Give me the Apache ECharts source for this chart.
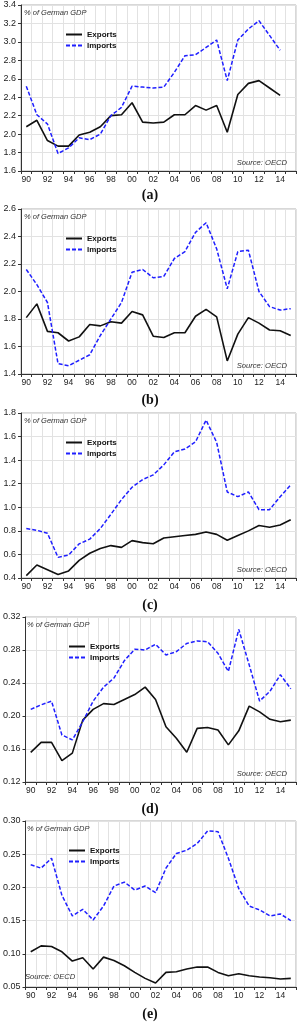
<!DOCTYPE html>
<html>
<head>
<meta charset="utf-8">
<script src="https://cdn.jsdelivr.net/npm/echarts@6/dist/echarts.min.js"></script>
<style>
html,body{margin:0;padding:0;background:#fff;}
#chart{width:302px;height:1024px;}
</style>
</head>
<body>
<div id="chart"></div>
<script>
var years = ['90','91','92','93','94','95','96','97','98','99','00','01','02','03','04','05','06','07','08','09','10','11','12','13','14','15'];

var exportsA = [2.08,2.15,1.93,1.87,1.87,1.99,2.02,2.08,2.20,2.21,2.34,2.13,2.12,2.13,2.21,2.21,2.31,2.26,2.31,2.02,2.43,2.55,2.58,2.50,2.42,null];
var importsA = [2.52,2.21,2.11,1.79,1.85,1.96,1.94,2.00,2.20,2.29,2.52,2.51,2.50,2.51,2.67,2.85,2.86,2.94,3.02,2.58,3.02,3.14,3.23,3.07,2.91,null];

var exportsB = [1.81,1.91,1.71,1.70,1.64,1.67,1.76,1.75,1.78,1.77,1.855,1.83,1.675,1.665,1.70,1.70,1.82,1.87,1.815,1.495,1.69,1.81,1.77,1.72,1.715,1.68];
var importsB = [2.16,2.05,1.92,1.475,1.46,1.50,1.54,1.68,1.80,1.92,2.14,2.16,2.10,2.11,2.24,2.29,2.43,2.50,2.31,2.02,2.29,2.30,2.00,1.89,1.865,1.875];

var exportsC = [0.42,0.51,0.47,0.43,0.46,0.55,0.61,0.65,0.675,0.66,0.717,0.70,0.69,0.74,0.75,0.76,0.77,0.79,0.77,0.72,0.76,0.80,0.845,0.83,0.85,0.895];
var importsC = [0.82,0.805,0.78,0.575,0.595,0.69,0.73,0.82,0.94,1.065,1.17,1.235,1.275,1.36,1.47,1.495,1.555,1.74,1.55,1.13,1.09,1.13,0.98,0.98,1.09,1.19];

var exportsD = [0.156,0.168,0.168,0.146,0.155,0.195,0.208,0.215,0.214,0.220,0.226,0.235,0.220,0.187,0.173,0.156,0.185,0.186,0.183,0.165,0.182,0.212,0.205,0.196,0.193,0.195];
var importsD = [0.208,0.2135,0.218,0.177,0.171,0.193,0.218,0.235,0.246,0.267,0.281,0.280,0.287,0.274,0.278,0.288,0.291,0.290,0.276,0.254,0.305,0.262,0.218,0.230,0.250,0.233];

var exportsE = [0.103,0.112,0.111,0.103,0.089,0.094,0.077,0.095,0.090,0.082,0.072,0.063,0.056,0.072,0.073,0.077,0.080,0.080,0.072,0.067,0.070,0.067,0.065,0.064,0.062,0.063];
var importsE = [0.234,0.229,0.244,0.188,0.157,0.167,0.151,0.172,0.202,0.208,0.196,0.202,0.192,0.229,0.251,0.256,0.266,0.285,0.284,0.244,0.198,0.172,0.166,0.157,0.160,0.150];

var yMins = [1.6, 1.4, 0.4, 0.12, 0.05];
var yMaxs = [3.4, 2.6, 1.8, 0.32, 0.30];
var yIntervals = [0.2, 0.2, 0.2, 0.04, 0.05];
var yDecimals = [1, 1, 1, 2, 2];
var captions = ['(a)', '(b)', '(c)', '(d)', '(e)'];
var unitLabel = '% of German GDP';
var sourceLabel = 'Source: OECD';

var exportsAll = [exportsA, exportsB, exportsC, exportsD, exportsE];
var importsAll = [importsA, importsB, importsC, importsD, importsE];

// layout
var gridTops = [5, 209, 413, 617, 821];
var gridHeights = [166, 165, 165, 165, 166];
var gridLefts = [21, 21, 21, 23, 23];
var gridRight = 6;
var legendLefts = [65, 65, 65, 68, 68];
var unitLefts = [24, 24, 24, 27, 27];
var captionY = [195, 400, 605, 809, 1014];

var font = '"Liberation Sans", Arial, sans-serif';
var grids = [], xAxes = [], yAxes = [], series = [], legends = [], graphics = [];

for (var i = 0; i < 5; i++) {
  grids.push({
    left: gridLefts[i], right: gridRight, top: gridTops[i], height: gridHeights[i],
    show: true, borderColor: '#b0b0b0', borderWidth: 1, backgroundColor: '#fff'
  });
  xAxes.push({
    type: 'category', gridIndex: i, data: years, boundaryGap: true,
    axisLine: {show: true, lineStyle: {color: '#333', width: 1}},
    axisTick: {show: true, interval: 0, length: 3, lineStyle: {color: '#333'}},
    axisLabel: {interval: 1, margin: 4, fontSize: 8.5, color: '#222', fontFamily: font},
    splitLine: {show: true, interval: 0, lineStyle: {color: '#e2e2e2', width: 1}}
  });
  (function(dec){
    yAxes.push({
      type: 'value', gridIndex: i, min: yMins[i], max: yMaxs[i], interval: yIntervals[i],
      axisLine: {show: true, lineStyle: {color: '#333', width: 1}},
      axisTick: {show: true, length: 3, lineStyle: {color: '#333'}},
      axisLabel: {margin: 5, fontSize: 9, color: '#222', fontFamily: font,
        formatter: function(v){ return v.toFixed(dec); }},
      splitLine: {show: true, lineStyle: {color: '#e2e2e2', width: 1}}
    });
  })(yDecimals[i]);
  series.push({
    name: 'Exports', type: 'line', xAxisIndex: i, yAxisIndex: i, data: exportsAll[i],
    symbol: 'none', connectNulls: false, z: 3,
    lineStyle: {color: '#111', width: 1.6}, itemStyle: {color: '#111'}
  });
  series.push({
    name: 'Imports', type: 'line', xAxisIndex: i, yAxisIndex: i, data: importsAll[i],
    symbol: 'none', connectNulls: false, z: 4,
    lineStyle: {color: '#1f1fff', width: 1.5, type: [4, 2]}, itemStyle: {color: '#1f1fff'}
  });
  legends.push({
    orient: 'vertical', left: legendLefts[i], top: gridTops[i] + 25.5,
    padding: 0, itemGap: 3, itemWidth: 16, itemHeight: 8,
    selectedMode: false,
    data: ['Exports', 'Imports'],
    itemStyle: {color: 'transparent', borderWidth: 0, opacity: 0},
    textStyle: {fontSize: 8, fontWeight: 'bold', color: '#111', fontFamily: font}
  });
  graphics.push({
    type: 'text', left: unitLefts[i], top: gridTops[i] + 8.3 - 4.5, z: 10,
    style: {text: unitLabel, font: 'italic 7.5px ' + font, fill: '#333'}
  });
  if (i < 4) {
    graphics.push({
      type: 'text', right: gridRight + 9, top: gridTops[i] + gridHeights[i] - 8 - 4.5, z: 10,
      style: {text: sourceLabel, font: 'italic 7.6px ' + font, fill: '#333'}
    });
  } else {
    graphics.push({
      type: 'text', left: 25, top: gridTops[i] + gridHeights[i] - 10 - 4.5, z: 10,
      style: {text: sourceLabel, font: 'italic 7.6px ' + font, fill: '#333'}
    });
  }
  graphics.push({
    type: 'text', x: 150, y: captionY[i], z: 10,
    style: {text: captions[i], font: 'bold 14px "Liberation Serif", "Times New Roman", serif', fill: '#111',
      textAlign: 'center', textVerticalAlign: 'middle'}
  });
}

var chart = echarts.init(document.getElementById('chart'), null, {renderer: 'canvas'});
chart.setOption({
  animation: false,
  backgroundColor: '#fff',
  grid: grids, xAxis: xAxes, yAxis: yAxes, series: series, legend: legends,
  graphic: graphics
});
</script>
</body>
</html>
